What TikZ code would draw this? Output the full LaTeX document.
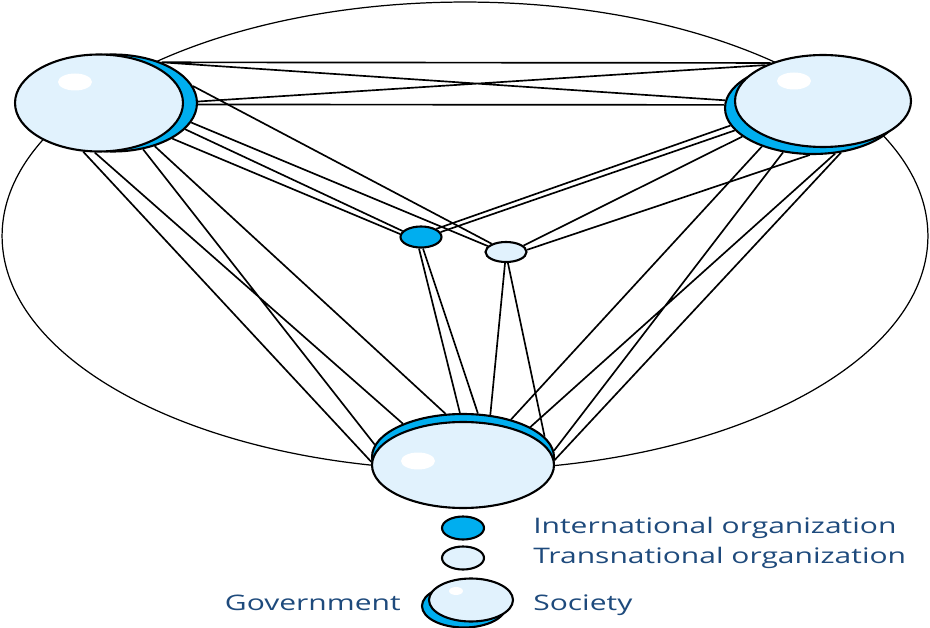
\documentclass[tikz,border=0pt]{standalone}
\usepackage{fontspec}
\newfontfamily\keyfont[FakeStretch=1.4]{Open Sans}
\usepackage{xcolor}
\definecolor{GovCyan}{HTML}{00AEEF}
\definecolor{SocPale}{HTML}{E1F2FD}
\definecolor{KeyNavy}{HTML}{1E4A7C}
\usetikzlibrary{shapes.geometric,backgrounds}

\begin{document}
\begin{tikzpicture}[x=0.02cm,y=-0.02cm,
    gov/.style={ellipse,draw=black,fill=GovCyan,line width=1.2pt,inner sep=0pt},
    soc/.style={ellipse,draw=black,fill=SocPale,line width=1.2pt,inner sep=0pt},
    shine/.style={ellipse,fill=white,inner sep=0pt,minimum width=0.68cm,minimum height=0.34cm},
    link/.style={line width=.95pt},
    keytext/.style={font={\keyfont\fontsize{12.2}{14}\selectfont},text=KeyNavy,inner sep=0pt}
  ]
  \useasboundingbox (0,0) rectangle (930,628);
  % the three states: government sits behind its society
  \node[gov,minimum width=3.36cm,minimum height=1.94cm] (Lgov) at (113,103) {};
  \node[soc,minimum width=3.36cm,minimum height=1.94cm] (Lsoc) at (99,103) {};
  \node[shine] (Lshine) at (75,82) {};
  \node[gov,minimum width=3.52cm,minimum height=1.84cm] (Rgov) at (813,108) {};
  \node[soc,minimum width=3.52cm,minimum height=1.84cm] (Rsoc) at (823,101) {};
  \node[shine] (Rshine) at (794,81) {};
  \node[gov,minimum width=3.64cm,minimum height=1.72cm] (Bgov) at (463,457) {};
  \node[soc,minimum width=3.64cm,minimum height=1.72cm] (Bsoc) at (463,465) {};
  \node[shine] (Bshine) at (418,461) {};
  % organizations
  \node[gov,minimum width=.82cm,minimum height=.42cm] (io) at (421,237) {};
  \node[soc,minimum width=.82cm,minimum height=.40cm] (to) at (506,252) {};

  \begin{pgfonlayer}{background}
    \node[ellipse,draw,line width=.7pt,inner sep=0pt,minimum width=18.52cm,minimum height=9.36cm] (world) at (465,236) {};
    \draw[link] (Lgov.40) -- (Rsoc.144) (Lgov.40) -- (Rgov.175)
      (Lgov.1) -- (Rsoc.148) (Lgov.-1) -- (Rgov.178);
    \draw[link] (Lsoc.-108) -- (Bsoc.178) (Lsoc.-95) -- (Bgov.151)
      (Lgov.-57) -- (Bgov.172) (Lgov.-46) -- (Bgov.112);
    \draw[link] (Rgov.-143) -- (Bgov.38) (Rgov.-124) -- (Bgov.4)
      (Rgov.-64) -- (Bgov.24) (Rgov.-58) -- (Bsoc.3);
    \draw[link] (Lgov.12) -- (to.150) (Lgov.-14) -- (to.162)
      (Lgov.-20) -- (io.162) (Lgov.-31) -- (io.172);
    \draw[link] (Rgov.-168) -- (io.28) (Rgov.-164) -- (io.14)
      (Rgov.-158) -- (to.20) (Rgov.-94) -- (to.6);
    \draw[link] (io.-100) -- (Bgov.94) (io.-80) -- (Bgov.71)
      (to.-95) -- (Bgov.57) (to.-80) -- (Bgov.14);
  \end{pgfonlayer}

  % key
  \node[gov,minimum width=.84cm,minimum height=.46cm] (keyio) at (463,528) {};
  \node[soc,minimum width=.84cm,minimum height=.46cm] (keyto) at (463,558) {};
  \node[gov,minimum width=1.68cm,minimum height=.86cm] (keygov) at (464,606) {};
  \node[soc,minimum width=1.68cm,minimum height=.86cm] (keysoc) at (471,600) {};
  \node[ellipse,fill=white,inner sep=0pt,minimum width=.28cm,minimum height=.16cm] (keyshine) at (456,591) {};
  \node[keytext,anchor=base west] (ioLabel) at (533,533) {International organization};
  \node[keytext,anchor=base west] (toLabel) at (533,563) {Transnational organization};
  \node[keytext,anchor=base west] (socLabel) at (533,610) {Society};
  \node[keytext,anchor=base east] (govLabel) at (401,610) {Government};
\end{tikzpicture}
\end{document}
